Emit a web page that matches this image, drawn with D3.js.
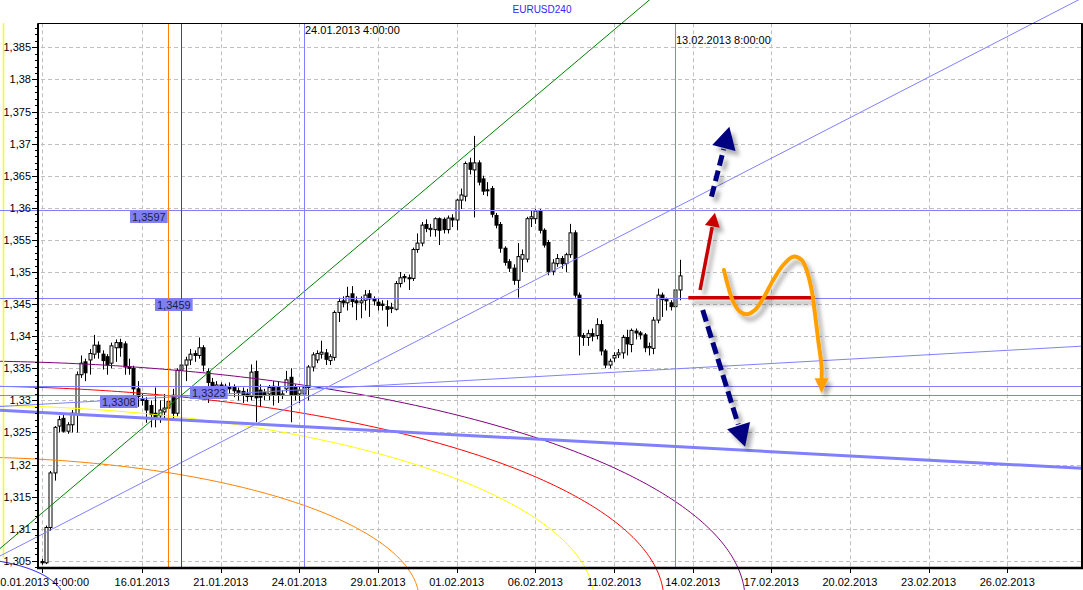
<!DOCTYPE html>
<html><head><meta charset="utf-8">
<script src="https://cdnjs.cloudflare.com/ajax/libs/d3/7.8.5/d3.min.js"></script>
<style>body{margin:0;background:#fff;}svg{display:block;font-family:"Liberation Sans",Arial,sans-serif;}</style>
</head><body><svg id="c" width="1083" height="590"></svg>
<script>
// ---------------- DATA ----------------
const title = "EURUSD240";
// 4h candles, index 0 = 10.01.2013 4:00 ; [open, high, low, close]
const candles = [
[1.3049,1.3053,1.3044,1.3047],[1.3047,1.3105,1.3045,1.3102],[1.3102,1.3190,1.3097,1.3187],[1.3187,1.3260,1.3175,1.3258],
[1.3260,1.3276,1.3250,1.3270],[1.3272,1.3278,1.3250,1.3252],[1.3252,1.3266,1.3248,1.3262],[1.3262,1.3285,1.3250,1.3280],
[1.3278,1.3345,1.3250,1.3340],[1.3340,1.3370,1.3335,1.3358],[1.3360,1.3365,1.3330,1.3343],[1.3363,1.3380,1.3340,1.3373],
[1.3372,1.3402,1.3365,1.3386],[1.3386,1.3392,1.3365,1.3375],[1.3372,1.3378,1.3348,1.3362],[1.3368,1.3372,1.3340,1.3355],
[1.3358,1.3390,1.3350,1.3385],[1.3382,1.3395,1.3360,1.3390],[1.3390,1.3396,1.3368,1.3382],[1.3388,1.3392,1.3340,1.3352],
[1.3352,1.3365,1.3340,1.3350],[1.3350,1.3354,1.3300,1.3318],[1.3318,1.3330,1.3290,1.3306],[1.3303,1.3310,1.3292,1.3300],
[1.3300,1.3305,1.3265,1.3285],[1.3292,1.3300,1.3258,1.3278],[1.3280,1.3320,1.3258,1.3273],[1.3276,1.3300,1.3265,1.3285],
[1.3282,1.3310,1.3270,1.3288],[1.3288,1.3310,1.3275,1.3298],[1.3308,1.3318,1.3270,1.3280],[1.3280,1.3350,1.3275,1.3347],
[1.3347,1.3360,1.3340,1.3355],[1.3355,1.3368,1.3330,1.3363],[1.3363,1.3380,1.3355,1.3372],[1.3373,1.3378,1.3360,1.3370],
[1.3370,1.3398,1.3365,1.3382],[1.3382,1.3386,1.3345,1.3355],[1.3345,1.3350,1.3296,1.3328],[1.3328,1.3335,1.3310,1.3318],
[1.3318,1.3330,1.3312,1.3324],[1.3324,1.3328,1.3312,1.3318],[1.3316,1.3326,1.3310,1.3322],[1.3320,1.3328,1.3310,1.3318],
[1.3320,1.3325,1.3305,1.3315],[1.3315,1.3320,1.3300,1.3312],[1.3314,1.3320,1.3296,1.3308],[1.3310,1.3318,1.3298,1.3306],
[1.3306,1.3356,1.3300,1.3344],[1.3345,1.3362,1.3266,1.3304],[1.3316,1.3325,1.3290,1.3305],[1.3312,1.3318,1.3300,1.3308],
[1.3310,1.3324,1.3300,1.3320],[1.3322,1.3330,1.3292,1.3308],[1.3320,1.3330,1.3296,1.3308],[1.3308,1.3316,1.3302,1.3310],
[1.3318,1.3346,1.3312,1.3332],[1.3336,1.3350,1.3266,1.3308],[1.3320,1.3325,1.3300,1.3308],[1.3310,1.3322,1.3296,1.3316],
[1.3310,1.3328,1.3286,1.3320],[1.3320,1.3355,1.3300,1.3352],[1.3352,1.3375,1.3345,1.3371],[1.3363,1.3378,1.3358,1.3373],
[1.3372,1.3393,1.3365,1.3375],[1.3374,1.3380,1.3355,1.3364],[1.3362,1.3372,1.3355,1.3368],[1.3367,1.3440,1.3362,1.3437],
[1.3437,1.3460,1.3422,1.3454],[1.3455,1.3462,1.3445,1.3452],[1.3452,1.3477,1.3440,1.3462],[1.3466,1.3478,1.3445,1.3454],
[1.3455,1.3462,1.3425,1.3452],[1.3452,1.3462,1.3428,1.3455],[1.3456,1.3472,1.3440,1.3464],[1.3466,1.3472,1.3430,1.3458],
[1.3458,1.3462,1.3448,1.3455],[1.3453,1.3458,1.3440,1.3448],[1.3450,1.3456,1.3440,1.3448],[1.3446,1.3456,1.3415,1.3442],
[1.3443,1.3452,1.3436,1.3445],[1.3442,1.3486,1.3440,1.3482],[1.3482,1.3500,1.3476,1.3491],[1.3493,1.3497,1.3484,1.3491],
[1.3491,1.3496,1.3472,1.3490],[1.3490,1.3538,1.3486,1.3535],[1.3535,1.3560,1.3530,1.3545],[1.3545,1.3578,1.3540,1.3573],
[1.3574,1.3582,1.3562,1.3568],[1.3566,1.3575,1.3555,1.3568],[1.3566,1.3585,1.3555,1.3583],[1.3583,1.3585,1.3542,1.3565],
[1.3582,1.3585,1.3560,1.3566],[1.3566,1.3588,1.3560,1.3584],[1.3584,1.3590,1.3570,1.3581],[1.3581,1.3614,1.3565,1.3612],
[1.3612,1.3630,1.3598,1.3620],[1.3618,1.3672,1.3610,1.3669],[1.3670,1.3678,1.3652,1.3660],[1.3659,1.3712,1.3585,1.3670],
[1.3670,1.3674,1.3635,1.3640],[1.3645,1.3650,1.3620,1.3626],[1.3628,1.3640,1.3618,1.3627],[1.3630,1.3634,1.3585,1.3590],
[1.3588,1.3592,1.3568,1.3573],[1.3574,1.3578,1.3530,1.3537],[1.3537,1.3540,1.3510,1.3515],[1.3516,1.3520,1.3500,1.3506],
[1.3506,1.3512,1.3480,1.3487],[1.3487,1.3545,1.3460,1.3524],[1.3520,1.3535,1.3500,1.3527],[1.3520,1.3586,1.3515,1.3583],
[1.3583,1.3595,1.3570,1.3586],[1.3583,1.3598,1.3575,1.3595],[1.3595,1.3598,1.3560,1.3565],[1.3565,1.3568,1.3538,1.3542],
[1.3546,1.3550,1.3495,1.3501],[1.3501,1.3520,1.3495,1.3514],[1.3513,1.3528,1.3508,1.3521],[1.3521,1.3525,1.3505,1.3513],
[1.3513,1.3530,1.3500,1.3527],[1.3527,1.3575,1.3522,1.3561],[1.3561,1.3565,1.3460,1.3464],[1.3464,1.3468,1.3370,1.3400],
[1.3401,1.3405,1.3385,1.3398],[1.3398,1.3410,1.3385,1.3404],[1.3404,1.3412,1.3392,1.3400],[1.3401,1.3428,1.3395,1.3418],
[1.3418,1.3425,1.3370,1.3377],[1.3377,1.3380,1.3350,1.3355],[1.3355,1.3365,1.3350,1.3361],[1.3366,1.3375,1.3360,1.3370],
[1.3371,1.3380,1.3366,1.3374],[1.3374,1.3402,1.3365,1.3398],[1.3398,1.3410,1.3370,1.3388],[1.3387,1.3412,1.3375,1.3409],
[1.3408,1.3412,1.3395,1.3405],[1.3405,1.3408,1.3395,1.3402],[1.3402,1.3405,1.3375,1.3382],[1.3382,1.3390,1.3370,1.3384],
[1.3381,1.3430,1.3372,1.3425],[1.3425,1.3474,1.3420,1.3464],[1.3464,1.3468,1.3430,1.3457],[1.3457,1.3460,1.3440,1.3455],
[1.3452,1.3456,1.3440,1.3446],[1.3446,1.3476,1.3440,1.3472],[1.3472,1.3519,1.3456,1.3494]
];
const barRange = [-0.82, 238.1];
const priceRange = [1.30389, 1.38874];
const xTickBars = [0,23,41,59,77,95,113,131,149,167,185,203,221];
const xTickLabels = ["10.01.2013 4:00:00","16.01.2013","21.01.2013","24.01.2013","29.01.2013","01.02.2013","06.02.2013","11.02.2013","14.02.2013","17.02.2013","20.02.2013","23.02.2013","26.02.2013"];
const yTicks = [1.305,1.31,1.315,1.32,1.325,1.33,1.335,1.34,1.345,1.35,1.355,1.36,1.365,1.37,1.375,1.38,1.385];
const yTickLabels = ["1,305","1,31","1,315","1,32","1,325","1,33","1,335","1,34","1,345","1,35","1,355","1,36","1,365","1,37","1,375","1,38","1,385"];
const yMinorTicks = d3.range(1304, 1389).map(v => v / 1000);
const hLevels = [1.3597, 1.3459, 1.3323, 1.3308];
const hLevelLabels = ["1,3597", "1,3459", "1,3323", "1,3308"];
const hLabelBars = [20.3, 25.9, 34.0, 13.3];
const vLineBars = [29, 32, 60, 145];
const vLineLabels = ["", "", "24.01.2013 4:00:00", "13.02.2013 8:00:00"];
const trendLines = [
  [0, 1.3124, 100, 1.3699],
  [0, 1.3091, 200, 1.3793],
  [0, 1.3294, 200, 1.3370],
  [0, 1.3281, 200, 1.3208]
];
const arcCenter = [-18.9, 1.29891];
const arcRadiusBars = [179.9, 161.3, 145.3, 105.3, 24.0];
const arcRadiusPrice = [0.03723, 0.03333, 0.03037, 0.02227, 0.00654];
const yellowMarker = [-8.8, 1.3055];
const upArrow = [[153.3, 1.36173], [157.4, 1.37263]];
const redArrow = [[150.7, 1.3472], [154.1, 1.35924]];
const redLevel = [[148.0, 1.3460], [177.0, 1.3460]];
const downArrow = [[151.3, 1.34408], [161.0, 1.32279]];
const orangeWave = [[156.16,1.35031],[157.14,1.34771],[158.28,1.34537],[159.82,1.34382],[161.35,1.34341],[163.25,1.34408],
  [165.15,1.34590],[167.44,1.34875],[169.73,1.35109],[172.01,1.35238],[173.94,1.35187],[175.08,1.35031],[176.23,1.34720],
  [176.98,1.34357],[177.73,1.33941],[178.51,1.33525]];
const orangeTip = [178.51, 1.33111];

// ---------------- STYLE / LAYOUT ----------------
const W = 1083, H = 590;
const L = 38, R = 1082, T = 23.3, B = 568;
const trendColors = ["#008000", "#8080ff", "#8080ff", "#8080ff"];
const trendWidths = [1, 1, 1, 3];
const arcColors = ["#800080", "#ff0000", "#ffff00", "#ff8000", "#0000ff"];
const vLineColors = ["#ff8000", "#ff0000", "#8080ff", "#8080ff"];
const vLabelBase = [0, 0, 34, 44];

const svg = d3.select("#c");
const x = d3.scaleLinear().domain(barRange).range([L, R]);
const y = d3.scaleLinear().domain(priceRange).range([B, T]);

const defs = svg.append("defs");
defs.append("clipPath").attr("id", "clipAll").append("rect").attr("x", 0).attr("y", 0).attr("width", R).attr("height", H);
const f = defs.append("filter").attr("id", "sh").attr("x", "-50%").attr("y", "-50%").attr("width", "200%").attr("height", "200%");
f.append("feDropShadow").attr("dx", 4).attr("dy", 5).attr("stdDeviation", 2.2).attr("flood-color", "#000").attr("flood-opacity", 0.32);

svg.append("rect").attr("width", W).attr("height", H).attr("fill", "#fff");

// grid
const grid = svg.append("g").attr("stroke", "#c0c0c0").attr("stroke-dasharray", "4,3").attr("stroke-width", 1);
grid.selectAll("line.h").data(yTicks).join("line").attr("class", "h")
  .attr("x1", L + 3).attr("x2", R).attr("y1", d => Math.round(y(d)) + 0.5).attr("y2", d => Math.round(y(d)) + 0.5);
grid.selectAll("line.v").data(xTickBars).join("line").attr("class", "v")
  .attr("x1", d => Math.round(x(d)) + 0.5).attr("x2", d => Math.round(x(d)) + 0.5).attr("y1", T).attr("y2", B);

// candles
const cg = svg.append("g");
candles.forEach((c, i) => {
  const [o, h, l, cl] = c;
  const cx = Math.round(x(i)) + 0.5;
  cg.append("line").attr("x1", cx).attr("x2", cx).attr("y1", y(h)).attr("y2", y(l)).attr("stroke", "#000").attr("stroke-width", 1);
  const top = y(Math.max(o, cl)), bot = y(Math.min(o, cl));
  cg.append("rect").attr("x", cx - 1.5).attr("width", 3).attr("y", top).attr("height", Math.max(1, bot - top))
    .attr("fill", cl >= o ? "#fff" : "#000").attr("stroke", "#000").attr("stroke-width", 1);
});

// drawings
const dg = svg.append("g").attr("clip-path", "url(#clipAll)").attr("fill", "none");
// arcs
const ts = d3.range(0, 361).map(k => Math.PI * k / 360);
arcRadiusBars.forEach((ra, k) => {
  const rp = arcRadiusPrice[k];
  const line = d3.line().x(t => x(arcCenter[0] + ra * Math.cos(t))).y(t => y(arcCenter[1] + rp * Math.sin(t)));
  dg.append("path").attr("d", line(ts)).attr("stroke", arcColors[k]).attr("stroke-width", 1);
});
// yellow vertical marker
dg.append("line").attr("x1", Math.round(x(yellowMarker[0])) + 0.5).attr("x2", Math.round(x(yellowMarker[0])) + 0.5)
  .attr("y1", T).attr("y2", y(yellowMarker[1])).attr("stroke", "#ffff00").attr("stroke-width", 1.5);
// trend lines (extended)
trendLines.forEach((t, k) => {
  const x1 = x(t[0]), y1 = y(t[1]), x2 = x(t[2]), y2 = y(t[3]);
  const s = (y2 - y1) / (x2 - x1);
  dg.append("line").attr("x1", 0).attr("y1", y1 - s * x1).attr("x2", R).attr("y2", y1 + s * (R - x1))
    .attr("stroke", trendColors[k]).attr("stroke-width", trendWidths[k]);
});
// horizontal levels
hLevels.forEach(p => {
  const yy = Math.round(y(p)) + 0.5;
  dg.append("line").attr("x1", 0).attr("x2", R).attr("y1", yy).attr("y2", yy).attr("stroke", "#8080ff").attr("stroke-width", 1);
});
// vertical lines
vLineBars.forEach((b, k) => {
  const xx = Math.round(x(b)) + 0.5;
  svg.append("line").attr("x1", xx).attr("x2", xx).attr("y1", T).attr("y2", B).attr("stroke", vLineColors[k]).attr("stroke-width", 1);
  if (vLineLabels[k]) svg.append("text").attr("x", xx + 0.5).attr("y", vLabelBase[k]).attr("font-size", 11).attr("fill", "#000").text(vLineLabels[k]);
});

// level labels
hLevels.forEach((p, k) => {
  const yy = Math.round(y(p)) + 1;
  const xx = Math.round(x(hLabelBars[k]));
  const t = svg.append("text").attr("x", xx + 2).attr("y", yy + 10).attr("font-size", 11).attr("fill", "#1c1c4a").text(hLevelLabels[k]);
  const w = t.node().getComputedTextLength();
  svg.insert("rect", () => t.node()).attr("x", xx).attr("y", yy).attr("width", w + 4).attr("height", 12).attr("fill", "#7f7ff2");
});

// axes frame
svg.append("line").attr("x1", L).attr("x2", R).attr("y1", Math.round(T) + 0.5).attr("y2", Math.round(T) + 0.5).attr("stroke", "#000");
svg.append("line").attr("x1", L).attr("x2", L).attr("y1", T).attr("y2", B + 1).attr("stroke", "#000").attr("stroke-width", 2);
svg.append("line").attr("x1", R).attr("x2", R).attr("y1", T).attr("y2", B + 1).attr("stroke", "#000").attr("stroke-width", 2);
svg.append("line").attr("x1", L - 1).attr("x2", R + 1).attr("y1", B).attr("y2", B).attr("stroke", "#000").attr("stroke-width", 2.5);

// y axis
const ya = svg.append("g");
ya.selectAll("line.mi").data(yMinorTicks.filter(v => y(v) > T && y(v) < B)).join("line").attr("class", "mi")
  .attr("x1", L - 3).attr("x2", L).attr("y1", d => Math.round(y(d)) + 0.5).attr("y2", d => Math.round(y(d)) + 0.5).attr("stroke", "#000");
ya.selectAll("line.ma").data(yTicks).join("line").attr("class", "ma")
  .attr("x1", L - 6).attr("x2", L).attr("y1", d => Math.round(y(d)) + 0.5).attr("y2", d => Math.round(y(d)) + 0.5).attr("stroke", "#000");
ya.selectAll("text").data(yTicks).join("text").attr("x", 31).attr("y", d => y(d) + 4).attr("text-anchor", "end")
  .attr("font-size", 11).attr("fill", "#000").text((d, i) => yTickLabels[i]);

// x axis
const xa = svg.append("g");
xa.selectAll("line").data(xTickBars).join("line").attr("x1", d => Math.round(x(d)) + 0.5).attr("x2", d => Math.round(x(d)) + 0.5)
  .attr("y1", B).attr("y2", B + 5).attr("stroke", "#000");
xa.selectAll("text").data(xTickBars).join("text").attr("x", d => x(d)).attr("y", 586).attr("text-anchor", "middle")
  .attr("font-size", 11).attr("fill", "#000").text((d, i) => xTickLabels[i]);

// title
svg.append("text").attr("x", 542).attr("y", 12.5).attr("text-anchor", "middle").attr("font-size", 10).attr("fill", "#2a2aff").text(title);

// annotations
const ag = svg.append("g").attr("filter", "url(#sh)");
function px(p) { return [x(p[0]), y(p[1])]; }
function head(p0, tip, len, half) {
  const dx = tip[0] - p0[0], dy = tip[1] - p0[1], d = Math.hypot(dx, dy);
  const ux = dx / d, uy = dy / d;
  const bx = tip[0] - ux * len, by = tip[1] - uy * len;
  return { base: [bx, by], tri: [[tip[0], tip[1]], [bx - uy * half, by + ux * half], [bx + uy * half, by - ux * half]] };
}
function arrow(a, color, width, dash, len, half) {
  const p0 = px(a[0]), p1 = px(a[1]);
  const h = head(p0, p1, len, half);
  const ln = ag.append("line").attr("x1", p0[0]).attr("y1", p0[1]).attr("x2", h.base[0] + (h.base[0]-p1[0])*0.05).attr("y2", h.base[1] + (h.base[1]-p1[1])*0.05)
    .attr("stroke", color).attr("stroke-width", width);
  if (dash) ln.attr("stroke-dasharray", dash);
  ag.append("path").attr("d", "M" + h.tri.map(q => q.join(",")).join("L") + "Z").attr("fill", color);
}
// red level
ag.append("line").attr("x1", x(redLevel[0][0])).attr("x2", x(redLevel[1][0])).attr("y1", y(redLevel[0][1])).attr("y2", y(redLevel[1][1]))
  .attr("stroke", "#c80000").attr("stroke-width", 3.5);
arrow(upArrow, "#000080", 5, "11,5", 22, 12);
arrow(redArrow, "#c80000", 3.5, null, 14, 7.5);
arrow(downArrow, "#000080", 5, "12,5", 22, 12);
// orange wave
const wp = orangeWave.map(px);
const tipP = px(orangeTip);
const oh = head(wp[wp.length - 1], tipP, 15, 7);
ag.append("path").attr("d", d3.line().curve(d3.curveCatmullRom)(wp.concat([oh.base]))).attr("fill", "none")
  .attr("stroke", "#ffa000").attr("stroke-width", 4).attr("stroke-linecap", "round");
ag.append("path").attr("d", "M" + oh.tri.map(q => q.join(",")).join("L") + "Z").attr("fill", "#ffa000");
</script></body></html>
